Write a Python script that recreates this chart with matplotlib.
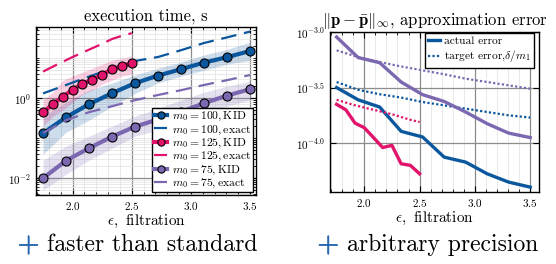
import numpy as np
import matplotlib
matplotlib.use("Agg")
import matplotlib.pyplot as plt
import matplotlib.patheffects as pe
from matplotlib.ticker import FixedLocator, MultipleLocator, LogLocator, FuncFormatter, NullFormatter

plt.rcParams["font.family"] = ["cmr10", "DejaVu Serif"]
plt.rcParams["mathtext.fontset"] = "cm"
plt.rcParams["axes.formatter.use_mathtext"] = True

# 資料
eps = np.linspace(1.75, 3.5, 10)
eps_125 = np.linspace(1.75, 2.5, 10)

# execution time (log10 seconds)
kid_100 = [-0.875, -0.475, -0.15, 0.125, 0.375, 0.565, 0.725, 0.89, 1.025, 1.18]
kid_100_hi = [-0.45, -0.1, 0.2, 0.38, 0.58, 0.75, 0.9, 1.08, 1.22, 1.4]
kid_100_lo = [-1.4, -0.85, -0.55, -0.2, 0.12, 0.38, 0.55, 0.7, 0.85, 0.95]
exact_100 = [0.12, 0.33, 0.54, 0.74, 0.93, 1.03, 1.2, 1.38, 1.52, 1.665]

kid_125 = [-0.35, -0.15, 0.04, 0.21, 0.36, 0.465, 0.59, 0.725, 0.8, 0.88]
kid_125_hi = [-0.05, 0.15, 0.45, 0.55, 0.65, 0.75, 0.85, 0.95, 1.0, 1.05]
kid_125_lo = [-0.7, -0.45, -0.3, -0.1, 0.1, 0.2, 0.35, 0.45, 0.55, 0.6]
exact_125 = [0.665, 0.79, 0.91, 1.03, 1.14, 1.25, 1.36, 1.48, 1.56, 1.625]

kid_75 = [-2.0, -1.56, -1.25, -0.96, -0.71, -0.53, -0.34, -0.125, 0.065, 0.225]
kid_75_hi = [-1.55, -1.2, -0.95, -0.7, -0.45, -0.25, -0.05, 0.15, 0.3, 0.42]
kid_75_lo = [-2.3, -1.9, -1.55, -1.25, -0.95, -0.8, -0.6, -0.4, -0.2, -0.04]
exact_75 = [-0.87, -0.55, -0.35, -0.2, -0.05, 0.08, 0.2, 0.33, 0.45, 0.58]

# approximation error (log10)
err_75 = [-3.045, -3.23, -3.276, -3.45, -3.564, -3.625, -3.72, -3.825, -3.91, -3.95]
tgt_75 = [-3.165, -3.225, -3.27, -3.31, -3.345, -3.38, -3.42, -3.45, -3.48, -3.51]
err_100 = [-3.5, -3.61, -3.675, -3.894, -3.945, -4.126, -4.171, -4.276, -4.351, -4.396]
tgt_100 = [-3.45, -3.52, -3.56, -3.59, -3.63, -3.66, -3.69, -3.72, -3.75, -3.77]
err_125 = [-3.651, -3.70, -3.82, -3.861, -3.95, -4.04, -4.02, -4.186, -4.2, -4.276]
tgt_125 = [-3.61, -3.635, -3.66, -3.68, -3.70, -3.72, -3.74, -3.765, -3.79, -3.81]

c_blue = "#0b579e"
c_pink = "#e2136b"
c_purple = "#7b68b0"
c_plus = "#2566b0"


def p10(v):
    return 10.0 ** np.array(v)


def style_axes(ax):
    ax.tick_params(which="both", direction="in", top=True, right=True, labelsize=8)
    ax.tick_params(which="major", length=4, width=0.8)
    ax.tick_params(which="minor", length=2, width=0.6)
    ax.grid(which="major", color="0.55", lw=0.9)
    ax.grid(which="minor", color="0.88", lw=0.5)
    ax.set_axisbelow(True)
    for s in ax.spines.values():
        s.set_linewidth(1.0)


fig = plt.figure(figsize=(5.56, 2.64), dpi=100)

# -- 左圖: execution time --#
ax1 = fig.add_axes([0.0647, 0.2614, 0.3957, 0.6364])
ax1.set_yscale("log")
series = [
    (eps, kid_100, kid_100_lo, kid_100_hi, exact_100, c_blue, "100"),
    (eps_125, kid_125, kid_125_lo, kid_125_hi, exact_125, c_pink, "125"),
    (eps, kid_75, kid_75_lo, kid_75_hi, exact_75, c_purple, "75"),
]
for x, kid, lo, hi, ex, c, m in series:
    ax1.fill_between(x, p10(lo), p10(hi), color=c, alpha=0.2, lw=0)
    ax1.plot(x, p10(kid), color=c, lw=3, marker="o", ms=6.5, mec="black",
             mew=0.8, label=r"$m_0 = %s, \mathrm{KID}$" % m)
    ax1.plot(x, p10(ex), color=c, lw=1.6, dashes=(7, 3.5),
             label=r"$m_0 = %s, \mathrm{exact}$" % m)

ax1.set_xlim(1.69, 3.55)
ax1.set_ylim(10 ** -2.42, 10 ** 1.78)
ax1.xaxis.set_major_locator(FixedLocator([2.0, 2.5, 3.0, 3.5]))
ax1.xaxis.set_minor_locator(MultipleLocator(0.1))
ax1.yaxis.set_major_locator(FixedLocator([1e-2, 1e0]))
ax1.yaxis.set_minor_locator(LogLocator(base=10, subs=np.arange(1, 10), numticks=20))
ax1.yaxis.set_minor_formatter(NullFormatter())
style_axes(ax1)
ax1.set_title("execution time, s", fontsize=12, pad=5)
ax1.set_xlabel(r"$\epsilon,$ filtration", fontsize=11, labelpad=1)
leg1 = ax1.legend(loc="lower right", bbox_to_anchor=(0.985, 0.018), borderaxespad=0,
                  fontsize=8.4, fancybox=False, edgecolor="black", framealpha=1,
                  handlelength=1.1, handletextpad=0.4, labelspacing=0.0,
                  borderpad=0.15, markerscale=0.8)
leg1.get_frame().set_linewidth(1.0)

# -- 右圖: approximation error --#
ax2 = fig.add_axes([0.5935, 0.2727, 0.376, 0.606])
ax2.set_yscale("log")
ax2.plot(eps, p10(err_100), color=c_blue, lw=2.4, label="actual error")
ax2.plot(eps, p10(tgt_100), color=c_blue, lw=1.6, ls=(0, (1, 1)),
         label=r"target error,$\delta/m_1$")
ax2.plot(eps, p10(err_75), color=c_purple, lw=2.4)
ax2.plot(eps, p10(tgt_75), color=c_purple, lw=1.6, ls=(0, (1, 1)))
ax2.plot(eps_125, p10(err_125), color=c_pink, lw=2.4)
ax2.plot(eps_125, p10(tgt_125), color=c_pink, lw=1.6, ls=(0, (1, 1)))

ax2.set_xlim(1.69, 3.58)
ax2.set_ylim(10 ** -4.44, 10 ** -3.0)
ax2.xaxis.set_major_locator(FixedLocator([2.0, 2.5, 3.0, 3.5]))
ax2.xaxis.set_minor_locator(MultipleLocator(0.1))
ax2.yaxis.set_major_locator(FixedLocator([10 ** -4.0, 10 ** -3.5, 10 ** -3.0]))
ax2.yaxis.set_minor_locator(FixedLocator([]))
ax2.yaxis.set_major_formatter(FuncFormatter(lambda v, p: r"$10^{%.1f}$" % np.log10(v)))
style_axes(ax2)
ax2.grid(which="minor", axis="y", visible=False)
ax2.set_title(r"$\|\mathbf{p}-\bar{\mathbf{p}}\|_\infty$, approximation error",
              fontsize=12, pad=5)
ax2.set_xlabel(r"$\epsilon,$ filtration", fontsize=11, labelpad=1)
leg2 = ax2.legend(loc="upper right", bbox_to_anchor=(0.975, 0.995), borderaxespad=0,
                  fontsize=8.2, fancybox=False, edgecolor="black", framealpha=1,
                  handlelength=1.0, handletextpad=0.35, labelspacing=0.2,
                  borderpad=0.3)
leg2.get_frame().set_linewidth(1.0)

# 底部說明文字
plus_fx = [pe.withStroke(linewidth=0.5, foreground=c_plus)]
fig.text(0.032, 0.045, r"$+$", color=c_plus, fontsize=20, va="baseline",
         path_effects=plus_fx)
fig.text(0.0845, 0.05, "faster than standard", fontsize=17, va="baseline")
fig.text(0.571, 0.045, r"$+$", color=c_plus, fontsize=20, va="baseline",
         path_effects=plus_fx)
fig.text(0.624, 0.05, "arbitrary precision", fontsize=17, va="baseline")

plt.savefig("out.png", dpi=100)
